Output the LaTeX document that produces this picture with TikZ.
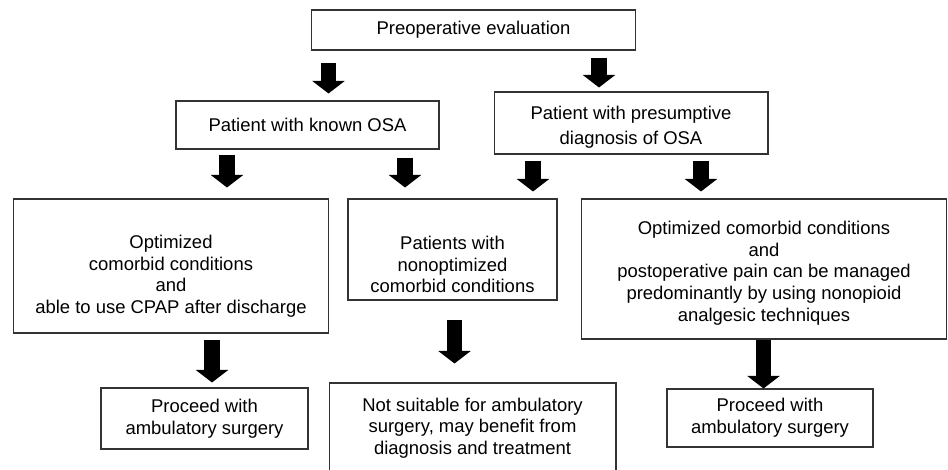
\documentclass[tikz,border=0pt]{standalone}
\usepackage{fontspec}
\setmainfont{Liberation Sans}
\usetikzlibrary{arrows.meta,positioning}
\newcommand{\lowerby}[1]{\rule{0pt}{#1}}

\begin{document}
\begin{tikzpicture}[x=0.02cm,y=-0.02cm, every node/.style={font=\fontsize{10.5}{12.3}\selectfont}]
\tikzstyle{box}=[draw=black!80,line width=0.6pt,align=center,inner sep=2pt]
\tikzstyle{blk}=[line width=0.31cm,-{Triangle[width=0.65cm,length=0.25cm,line width=0pt]}]
\useasboundingbox (0,0) rectangle (948,470);
% first two levels
\node[box,minimum width=6.5cm,minimum height=0.8cm] (preop) at (473.5,30) {Preoperative evaluation};
\node[box,minimum width=5.26cm,minimum height=0.96cm] (known) at (307.5,125) {Patient with known OSA};
\node[box,minimum width=5.48cm,minimum height=1.24cm] (presum) at (631,123) {\lowerby{0.45cm}Patient with presumptive\\[0.07cm]diagnosis of OSA};
% conditions
\node[box,minimum width=6.32cm,minimum height=2.68cm] (optleft) at (171,266) {\lowerby{0.67cm}Optimized\\comorbid conditions\\and\\able to use CPAP after discharge};
\node[box,minimum width=4.18cm,minimum height=2.02cm] (nonopt) at (452.5,249.5) {\lowerby{0.87cm}Patients with\\nonoptimized\\comorbid conditions};
\node[box,minimum width=7.32cm,minimum height=2.8cm] (optright) at (764,269) {\lowerby{0.43cm}Optimized comorbid conditions\\and\\postoperative pain can be managed\\predominantly by using nonopioid\\analgesic techniques};
% outcomes
\node[box,minimum width=4.14cm,minimum height=1.22cm] (proceedl) at (204.5,418.5) {Proceed with\\ambulatory surgery};
\node[box,minimum width=5.74cm,minimum height=1.8cm] (notsuit) at (472.5,428) {Not suitable for ambulatory\\surgery, may benefit from\\diagnosis and treatment};
\node[box,minimum width=4.12cm,minimum height=1.16cm] (proceedr) at (770,418) {Proceed with\\ambulatory surgery};
% block arrows
\draw[blk,shorten <=0.24cm,shorten >=0.14cm] (preop.south -| 328.5,0) -- (known.north -| 328.5,0);
\draw[blk,shorten <=0.14cm,shorten >=0.08cm] (preop.south -| 599,0) -- (presum.north -| 599,0);
\draw[blk,shorten <=0.1cm,shorten >=0.22cm] (known.south -| 227,0) -- (optleft.north -| 227,0);
\draw[blk,shorten <=0.16cm,shorten >=0.22cm] (known.south -| 405,0) -- (nonopt.north -| 405,0);
\draw[blk,shorten <=0.12cm,shorten >=0.14cm] (presum.south -| 533,0) -- (nonopt.north -| 533,0);
\draw[blk,shorten <=0.12cm,shorten >=0.14cm] (presum.south -| 701,0) -- (optright.north -| 701,0);
\draw[blk,shorten <=0.12cm,shorten >=0.1cm] (optleft.south -| 212,0) -- (proceedl.north -| 212,0);
\draw[blk,shorten <=0.38cm,shorten >=0.38cm] (nonopt.south -| 454.5,0) -- (notsuit.north -| 454.5,0);
\draw[blk] (optright.south -| 763.5,0) -- (proceedr.north -| 763.5,0);
\end{tikzpicture}
\end{document}
